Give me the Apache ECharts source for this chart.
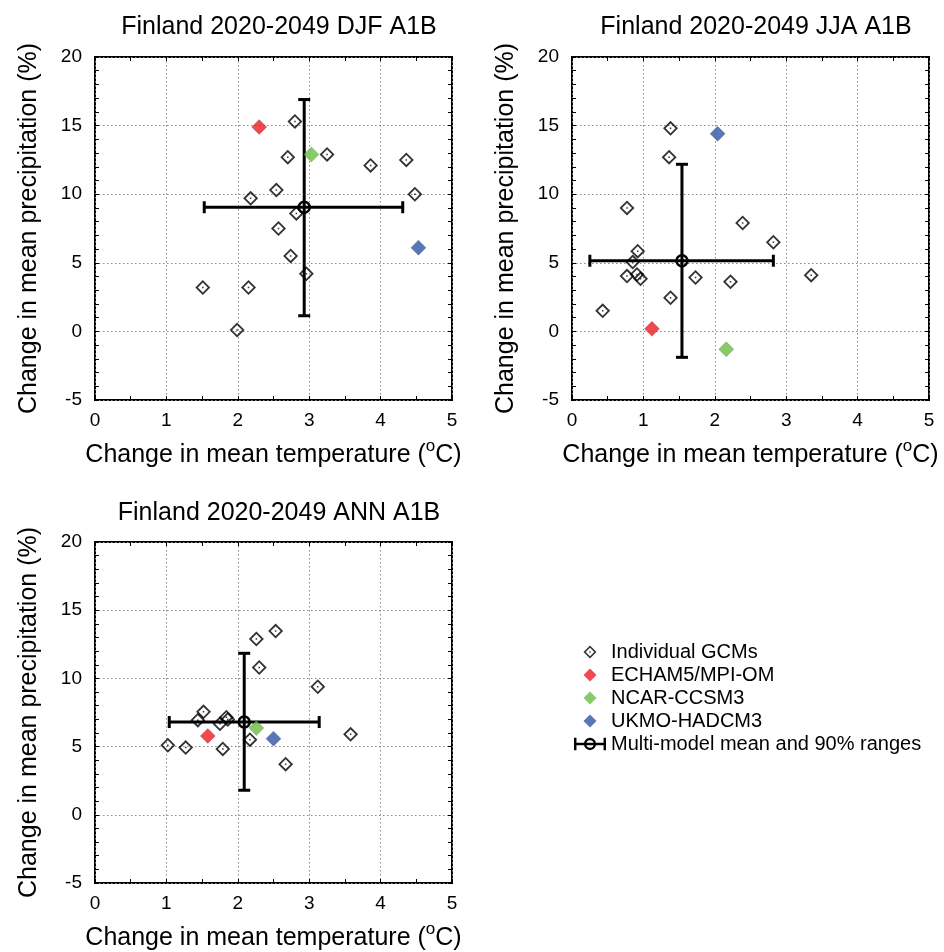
<!DOCTYPE html>
<html><head><meta charset="utf-8">
<script src="https://cdn.jsdelivr.net/npm/echarts@6/dist/echarts.min.js"></script>
<style>html,body{margin:0;padding:0;background:#fff}#c{width:944px;height:952px}</style>
</head><body><div id="c"></div>
<script>
// ---- Data ----
const panelTitles = ['Finland 2020-2049 DJF A1B', 'Finland 2020-2049 JJA A1B', 'Finland 2020-2049 ANN A1B'];
const xTitle = 'Change in mean temperature ({sup|o}C)';
const yTitle = 'Change in mean precipitation (%)';
const xRange = [0, 5], xStep = 1;
const yRange = [-5, 20], yStep = 5;

// DJF
const djfGcmT = [2.80, 2.70, 3.25, 3.86, 4.36, 4.48, 2.54, 2.18, 2.82, 2.57, 2.74, 2.96, 1.51, 2.15, 1.99];
const djfGcmP = [15.3, 12.7, 12.9, 12.1, 12.5, 10.0, 10.3, 9.7, 8.6, 7.5, 5.5, 4.2, 3.2, 3.2, 0.1];
const djfEcham = [2.30, 14.9];
const djfNcar = [3.03, 12.9];
const djfUkmo = [4.53, 6.1];
const djfMean = [2.93, 9.05];
const djfTRange = [1.53, 4.31];
const djfPRange = [1.14, 16.9];

// JJA
const jjaGcmT = [1.38, 1.36, 0.77, 2.39, 2.82, 0.92, 0.85, 0.77, 0.91, 0.96, 1.73, 2.22, 3.35, 1.38, 0.43];
const jjaGcmP = [14.8, 12.7, 9.0, 7.9, 6.5, 5.85, 5.05, 4.03, 4.15, 3.83, 3.93, 3.62, 4.1, 2.45, 1.5];
const jjaEcham = [1.12, 0.19];
const jjaNcar = [2.16, -1.3];
const jjaUkmo = [2.04, 14.4];
const jjaMean = [1.54, 5.15];
const jjaTRange = [0.25, 2.82];
const jjaPRange = [-1.89, 12.18];

// ANN
const annGcmT = [2.53, 2.26, 2.30, 3.12, 1.52, 1.44, 1.84, 1.75, 1.86, 2.17, 3.58, 1.02, 1.27, 1.79, 2.67];
const annGcmP = [13.47, 12.89, 10.8, 9.39, 7.55, 6.94, 7.16, 6.67, 6.99, 5.51, 5.9, 5.10, 4.93, 4.83, 3.71];
const annEcham = [1.58, 5.78];
const annNcar = [2.26, 6.36];
const annUkmo = [2.50, 5.58];
const annMean = [2.09, 6.8];
const annTRange = [1.04, 3.14];
const annPRange = [1.8, 11.84];

const seriesNames = ['Individual GCMs', 'ECHAM5/MPI-OM', 'NCAR-CCSM3', 'UKMO-HADCM3', 'Multi-model mean and 90% ranges'];

// ---- Styling ----
const FONT = '"Liberation Sans", Arial, Helvetica, sans-serif';
const colors = { echam: '#ec1c24', ncar: '#6abd45', ukmo: '#2e55a4' };
const gcmPath = 'path://M0,-7L7,0L0,7L-7,0Z M0,-4.6L-4.6,0L0,4.6L4.6,0Z M-0.7,-0.7L0.7,-0.7L0.7,0.7L-0.7,0.7Z';
const diamondPath = 'path://M0,-7L7,0L0,7L-7,0Z';
const meanPath = 'path://M-13,-1L13,-1L13,1L-13,1Z M-13,-5L-11,-5L-11,5L-13,5Z M11,-5L13,-5L13,5L11,5Z M5,0A5,5 0 1,1 -5,0A5,5 0 1,1 5,0Z M3,0A3,3 0 1,0 -3,0A3,3 0 1,0 3,0Z';

const panels = [
  { gcmT: djfGcmT, gcmP: djfGcmP, echam: djfEcham, ncar: djfNcar, ukmo: djfUkmo, mean: djfMean, tr: djfTRange, pr: djfPRange,
    grid: { left: 95, top: 57, width: 357, height: 343 }, title: { x: 274, y: 10 } },
  { gcmT: jjaGcmT, gcmP: jjaGcmP, echam: jjaEcham, ncar: jjaNcar, ukmo: jjaUkmo, mean: jjaMean, tr: jjaTRange, pr: jjaPRange,
    grid: { left: 572, top: 57, width: 357, height: 343 }, title: { x: 751, y: 10 } },
  { gcmT: annGcmT, gcmP: annGcmP, echam: annEcham, ncar: annNcar, ukmo: annUkmo, mean: annMean, tr: annTRange, pr: annPRange,
    grid: { left: 95, top: 542, width: 357, height: 343 }, title: { x: 274, y: 496 } }
];

const tickStyle = { show: true, inside: true, length: 4, lineStyle: { color: '#000', width: 1 } };
const noLine = { show: false, onZero: false };
const gridLine = { show: true, lineStyle: { color: '#8a8a8a', width: 1, type: [1.5, 2.5] } };
const nameStyle = { fontFamily: FONT, fontSize: 25, color: '#000',
  rich: { sup: { fontFamily: FONT, fontSize: 17, color: '#000', padding: [0, 0, 18, 0] } } };

const grids = [], xAxes = [], yAxes = [], series = [], titles = [];

panels.forEach((p, i) => {
  grids.push(Object.assign({ show: true, borderColor: '#000', borderWidth: 2, backgroundColor: '#fff' }, p.grid));
  titles.push({ text: panelTitles[i], left: p.title.x, top: p.title.y, textAlign: 'center',
    textStyle: { fontFamily: FONT, fontSize: 25, fontWeight: 'normal', color: '#000' } });
  // bottom & top x axes
  xAxes.push({ gridIndex: i, type: 'value', position: 'bottom', min: xRange[0], max: xRange[1], interval: xStep,
    axisLine: noLine, axisTick: tickStyle,
    minorTick: { show: true, splitNumber: 2, length: 4, lineStyle: { color: '#000', width: 1 } },
    splitLine: gridLine,
    axisLabel: { fontFamily: FONT, fontSize: 19, color: '#000', margin: 11 },
    name: xTitle, nameLocation: 'middle', nameGap: 38, nameTextStyle: nameStyle });
  xAxes.push({ gridIndex: i, type: 'value', position: 'top', min: xRange[0], max: xRange[1], interval: xStep,
    axisLine: noLine, axisTick: tickStyle,
    minorTick: { show: true, splitNumber: 2, length: 4, lineStyle: { color: '#000', width: 1 } },
    splitLine: { show: false }, axisLabel: { show: false } });
  // left & right y axes
  yAxes.push({ gridIndex: i, type: 'value', position: 'left', min: yRange[0], max: yRange[1], interval: yStep,
    axisLine: noLine, axisTick: tickStyle,
    minorTick: { show: true, splitNumber: 5, length: 4, lineStyle: { color: '#000', width: 1 } },
    splitLine: gridLine,
    axisLabel: { fontFamily: FONT, fontSize: 19, color: '#000', margin: 13 },
    name: yTitle, nameLocation: 'middle', nameGap: 53, nameTextStyle: { fontFamily: FONT, fontSize: 25, color: '#000' } });
  yAxes.push({ gridIndex: i, type: 'value', position: 'right', min: yRange[0], max: yRange[1], interval: yStep,
    axisLine: noLine, axisTick: tickStyle,
    minorTick: { show: true, splitNumber: 5, length: 4, lineStyle: { color: '#000', width: 1 } },
    splitLine: { show: false }, axisLabel: { show: false } });

  const xi = 2 * i, yi = 2 * i;
  series.push({ name: seriesNames[0], type: 'scatter', xAxisIndex: xi, yAxisIndex: yi,
    symbol: gcmPath, symbolSize: 15, itemStyle: { color: '#000' }, z: 3,
    data: p.gcmT.map((t, k) => [t, p.gcmP[k]]) });
  series.push({ name: seriesNames[4], type: 'custom', xAxisIndex: xi, yAxisIndex: yi, z: 4,
    itemStyle: { color: '#000' },
    data: [[p.mean[0], p.mean[1], p.tr[0], p.tr[1], p.pr[0], p.pr[1]]],
    encode: { x: 0, y: 1 },
    renderItem: function (params, api) {
      const m = api.coord([api.value(0), api.value(1)]);
      const tl = api.coord([api.value(2), api.value(1)]);
      const th = api.coord([api.value(3), api.value(1)]);
      const pl = api.coord([api.value(0), api.value(4)]);
      const ph = api.coord([api.value(0), api.value(5)]);
      const cap = 6;
      const s = { stroke: '#000', lineWidth: 3, fill: null };
      const ln = (x1, y1, x2, y2) => ({ type: 'line', shape: { x1, y1, x2, y2 }, style: s });
      return { type: 'group', children: [
        ln(tl[0], tl[1], th[0], th[1]),
        ln(tl[0], tl[1] - cap, tl[0], tl[1] + cap),
        ln(th[0], th[1] - cap, th[0], th[1] + cap),
        ln(pl[0], pl[1], ph[0], ph[1]),
        ln(pl[0] - cap, pl[1], pl[0] + cap, pl[1]),
        ln(ph[0] - cap, ph[1], ph[0] + cap, ph[1]),
        { type: 'circle', shape: { cx: m[0], cy: m[1], r: 5.5 }, style: { stroke: '#000', lineWidth: 2.5, fill: null } }
      ] };
    } });
  [['echam', 1], ['ncar', 2], ['ukmo', 3]].forEach(([key, n]) => {
    series.push({ name: seriesNames[n], type: 'scatter', xAxisIndex: xi, yAxisIndex: yi,
      symbol: diamondPath, symbolSize: 15, z: 5,
      itemStyle: { color: colors[key], borderColor: 'rgba(0,0,0,0.35)', borderWidth: 0.6 },
      data: [p[key]] });
  });
});

const chart = echarts.init(document.getElementById('c'), null, { renderer: 'canvas' });
chart.setOption({
  animation: false,
  backgroundColor: '#fff',
  title: titles,
  grid: grids,
  xAxis: xAxes,
  yAxis: yAxes,
  legend: {
    orient: 'vertical', left: 569, top: 637, itemWidth: 32, itemHeight: 13, itemGap: 3,
    selectedMode: false, symbolKeepAspect: true,
    textStyle: { fontFamily: FONT, fontSize: 20, color: '#000' },
    data: [
      { name: seriesNames[0], icon: gcmPath, itemStyle: { color: '#000', borderWidth: 0 } },
      { name: seriesNames[1], icon: diamondPath, itemStyle: { color: colors.echam, borderWidth: 0 } },
      { name: seriesNames[2], icon: diamondPath, itemStyle: { color: colors.ncar, borderWidth: 0 } },
      { name: seriesNames[3], icon: diamondPath, itemStyle: { color: colors.ukmo, borderWidth: 0 } },
      { name: seriesNames[4], icon: meanPath, itemStyle: { color: '#000', borderWidth: 0 } }
    ]
  },
  series: series
});
</script></body></html>
